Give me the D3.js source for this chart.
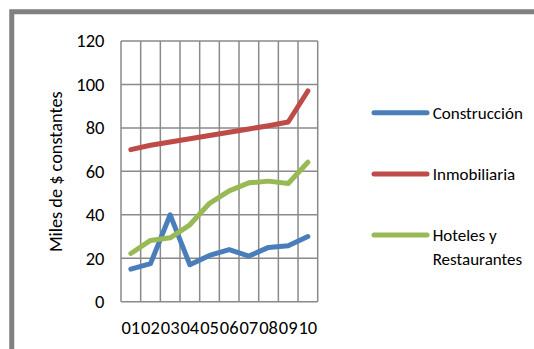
<!DOCTYPE html>
<html>
<head>
<meta charset="utf-8">
<script src="https://cdn.jsdelivr.net/npm/d3@7"></script>
<style>
  html, body { margin: 0; padding: 0; background: #fff; }
  svg { display: block; }
  text { font-family: Carlito, Calibri, Lato, sans-serif; fill: #000; }
</style>
</head>
<body>
<svg id="chart" width="534" height="349"></svg>
<script>
const categories = ["01", "02", "03", "04", "05", "06", "07", "08", "09", "10"];
const construccion = [15, 17.5, 40, 17, 21.3, 24, 21, 25, 25.8, 30];
const inmobiliaria = [70, 72, 73.5, 75, 76.5, 78, 79.5, 81, 82.7, 97];
const hoteles = [22.2, 28.2, 29.4, 35.4, 45.3, 51, 54.7, 55.5, 54.4, 64.2];
const yTicks = [0, 20, 40, 60, 80, 100, 120];
const seriesNames = ["Construcción", "Inmobiliaria", "Hoteles y Restaurantes"];
const yTitle = "Miles de $ constantes";

const series = [
  { name: seriesNames[0], values: construccion, color: "#4a7ebb" },
  { name: seriesNames[1], values: inmobiliaria, color: "#be4b48" },
  { name: seriesNames[2], values: hoteles, color: "#98b954" }
];

const svg = d3.select("#chart");
const tickFont = 18.5;
const titleFont = 18.3;
const legendFont = 17;

// chart frame
svg.append("rect")
  .attr("x", 11.75).attr("y", 11.75)
  .attr("width", 700).attr("height", 500)
  .attr("fill", "#fff")
  .attr("stroke", "#808080").attr("stroke-width", 5);

const x = d3.scaleBand().domain(categories).range([121, 317.7]);
const y = d3.scaleLinear().domain([0, 120]).range([301.7, 41]);

const grid = svg.append("g").attr("stroke", "#8a8a8a").attr("stroke-width", 1.5);
grid.selectAll("line.h").data(yTicks).join("line").attr("class", "h")
  .attr("x1", x.range()[0]).attr("x2", x.range()[1])
  .attr("y1", d => y(d)).attr("y2", d => y(d));
const bounds = categories.map(c => x(c)).concat([x.range()[1]]);
grid.selectAll("line.v").data(bounds).join("line").attr("class", "v")
  .attr("x1", d => d).attr("x2", d => d)
  .attr("y1", y(120)).attr("y2", y(0));

// y tick labels
svg.append("g").selectAll("text").data(yTicks).join("text")
  .attr("x", 104.5).attr("y", d => y(d)).attr("dy", "0.35em")
  .attr("text-anchor", "end").attr("font-size", tickFont)
  .text(d => d);

// x tick labels
svg.append("g").selectAll("text").data(categories).join("text")
  .attr("x", d => x(d) + x.bandwidth() / 2).attr("y", 327.5).attr("dy", "0.35em")
  .attr("text-anchor", "middle").attr("font-size", tickFont)
  .text(d => d);

// y title
svg.append("text")
  .attr("transform", "translate(56,171.7) rotate(-90)")
  .attr("dy", "0.35em").attr("text-anchor", "middle").attr("font-size", titleFont)
  .text(yTitle);

// lines
const line = d3.line()
  .x((d, i) => x(categories[i]) + x.bandwidth() / 2)
  .y(d => y(d));
svg.append("g").selectAll("path").data(series).join("path")
  .attr("d", d => line(d.values))
  .attr("fill", "none").attr("stroke", d => d.color)
  .attr("stroke-width", 5).attr("stroke-linejoin", "round").attr("stroke-linecap", "round");

// legend
const legendY = [112.7, 174, 235];
const lg = svg.append("g").selectAll("g").data(series).join("g")
  .attr("transform", (d, i) => `translate(0,${legendY[i]})`);
lg.append("line").attr("x1", 374).attr("x2", 427).attr("y1", 0).attr("y2", 0)
  .attr("stroke", d => d.color).attr("stroke-width", 5).attr("stroke-linecap", "round");
lg.append("text").attr("x", 432.7).attr("y", 0).attr("dy", "0.35em").attr("font-size", legendFont)
  .each(function(d, i) {
    const t = d3.select(this);
    if (i === 2) {
      t.append("tspan").attr("x", 432.7).text("Hoteles y");
      t.append("tspan").attr("x", 432.7).attr("dy", "1.43em").text("Restaurantes");
    } else {
      t.text(d.name);
    }
  });
</script>
</body>
</html>
